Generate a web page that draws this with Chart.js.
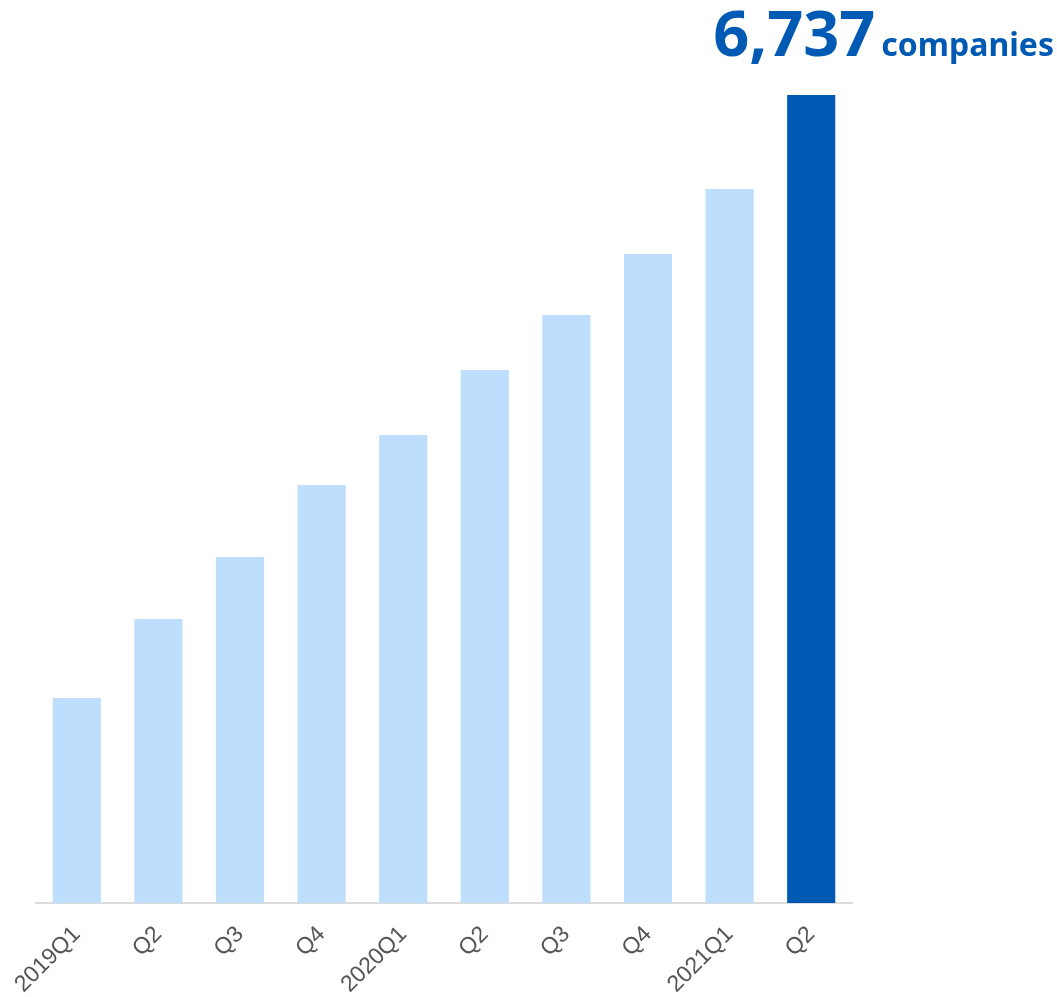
<!DOCTYPE html>
<html>
<head>
<meta charset="utf-8">
<script src="https://cdn.jsdelivr.net/npm/chart.js@4"></script>
<style>
  body { margin: 0; background: #fff; }
  canvas { display: block; }
</style>
</head>
<body>
<canvas id="companyChart" width="1057" height="997"></canvas>
<script>
// Companies per quarter
const quarters = ['2019Q1', 'Q2', 'Q3', 'Q4', '2020Q1', 'Q2', 'Q3', 'Q4', '2021Q1', 'Q2'];
const companies = [1709, 2368, 2885, 3485, 3902, 4444, 4903, 5411, 5953, 6737];
const unitLabel = 'companies';

const lightBlue = '#bedefd';
const darkBlue = '#005ab4';
const barColors = companies.map((v, i) => i === companies.length - 1 ? darkBlue : lightBlue);

// big number above the latest bar
const latestLabel = {
    id: 'latestLabel',
    afterDatasetsDraw(chart) {
        const ctx = chart.ctx;
        const meta = chart.getDatasetMeta(0);
        const last = meta.data[meta.data.length - 1];
        const value = companies[companies.length - 1].toLocaleString('en-US');
        ctx.save();
        ctx.fillStyle = darkBlue;
        ctx.textBaseline = 'alphabetic';
        ctx.textAlign = 'left';
        const x = last.x - 98;
        const y = last.y - 39;
        ctx.font = 'bold 63px "Noto Sans"';
        ctx.fillText(value, x, y);
        const w = ctx.measureText(value).width;
        ctx.font = 'bold 32px "Noto Sans"';
        ctx.fillText(unitLabel, x + w + 6, y);
        ctx.restore();
    }
};

const ctx1 = document.getElementById('companyChart');

new Chart(ctx1, {
    type: 'bar',
    data: {
        labels: quarters,
        datasets: [{
            data: companies,
            backgroundColor: barColors,
            barPercentage: 0.59,
            categoryPercentage: 1
        }]
    },
    options: {
        responsive: false,
        animation: false,
        layout: { padding: { top: 95, left: 36, right: 205, bottom: 0 } },
        plugins: {
            legend: { display: false },
            tooltip: { enabled: false }
        },
        scales: {
            x: {
                afterFit(scale) { scale.height = 94; },
                grid: { display: false },
                border: { display: true, color: '#dcdcdc', width: 2 },
                ticks: {
                    color: '#555',
                    font: { family: '"Liberation Sans", Arial', size: 23 },
                    minRotation: 45,
                    maxRotation: 45,
                    padding: 10
                }
            },
            y: {
                display: false,
                min: 0,
                max: 6737
            }
        }
    },
    plugins: [latestLabel]
});
</script>
</body>
</html>
